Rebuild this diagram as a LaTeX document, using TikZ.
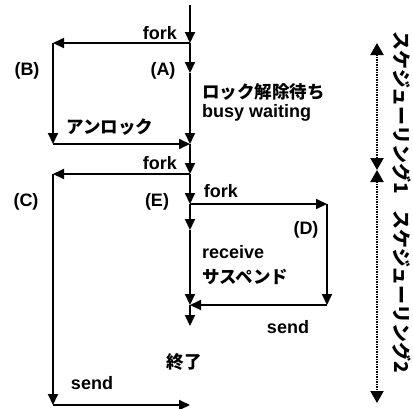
\documentclass[tikz,border=0pt]{standalone}
\usepackage{fontspec}
\setmainfont{Liberation Sans}
\newfontfamily\jp{Noto Sans CJK JP}
\usetikzlibrary{arrows.meta}
\begin{document}
\begin{tikzpicture}[x=1pt,y=-1pt,
  flow/.style={line width=2pt,-{Triangle[length=11pt,width=10pt]}},
  sched/.style={line width=2.2pt,dash pattern=on 1.4pt off 1.1pt,
    {Triangle[length=12pt,width=13pt]}-{Triangle[length=12pt,width=13pt]}},
  lbl/.style={font=\fontsize{18}{21}\selectfont\bfseries,inner sep=0pt},
  jlbl/.style={font=\jp\fontsize{17.5}{21}\selectfont\bfseries,inner sep=0pt},
  vlbl/.style={font=\jp\fontsize{19}{22}\selectfont\bfseries,inner sep=0pt,rotate=-90}]
\useasboundingbox (0,0) rectangle (413,408);
% points
\coordinate (top) at (190,5);
\coordinate (f1) at (190,43);
\coordinate (a) at (190,73);
\coordinate (m1) at (190,144);
\coordinate (f2) at (190,174);
\coordinate (f3) at (190,204);
\coordinate (e) at (190,230);
\coordinate (m2) at (190,305);
\coordinate (fin) at (190,326);
\coordinate (b1) at (53,43);
\coordinate (b2) at (53,144);
\coordinate (c1) at (53,174);
\coordinate (c2) at (53,405);
\coordinate (c3) at (190,405);
\coordinate (d1) at (327,204);
\coordinate (d2) at (327,305);
\coordinate (s0) at (377,43);
\coordinate (s1) at (377,170);
\coordinate (s2) at (377,403);
% main line
\draw[flow] (top) -- (f1);
\draw[flow] (f1) -- (a);
\draw[flow] (a) -- (m1);
\draw[flow] (m1) -- (f2);
\draw[flow] (f2) -- (f3);
\draw[flow] (f3) -- (e);
\draw[flow] (e) -- (m2);
\draw[flow] (m2) -- (fin);
% branch B
\draw[flow] (f1) -- (b1);
\draw[flow] (b1) -- (b2);
\draw[flow] (b2) -- (m1);
% branch C
\draw[flow] (f2) -- (c1);
\draw[flow] (c1) -- (c2);
\draw[flow] (c2) -- (c3);
% branch D
\draw[flow] (f3) -- (d1);
\draw[flow] (d1) -- (d2);
\draw[flow] (d2) -- (m2);
% scheduling arrows
\draw[sched] (s0) -- (s1);
\draw[sched] (s1) -- (s2);
% labels
\node[lbl] (fork1) at (160,33) {fork};
\node[lbl] (lB) at (27,71) {(B)};
\node[lbl] (lA) at (163,71) {(A)};
\node[jlbl,anchor=west] (wait) at (202,92) {ロック解除待ち};
\node[lbl,anchor=west] (busy) at (202,113) {busy waiting};
\node[jlbl] (unlock) at (110,127) {アンロック};
\node[lbl] (fork2) at (160,163) {fork};
\node[lbl] (lC) at (26,202) {(C)};
\node[lbl] (lE) at (157,202) {(E)};
\node[lbl] (fork3) at (221,191) {fork};
\node[lbl] (lD) at (306,230) {(D)};
\node[lbl,anchor=west] (recv) at (202,252) {receive};
\node[jlbl,anchor=west] (susp) at (202,277) {サスペンド};
\node[lbl] (sendD) at (288,327) {send};
\node[jlbl] (owari) at (184,362) {終了};
\node[lbl] (sendC) at (92,383) {send};
\node[vlbl] (sch1) at (402,113) {スケジューリング1};
\node[vlbl] (sch2) at (402,292) {スケジューリング2};
\end{tikzpicture}
\end{document}
